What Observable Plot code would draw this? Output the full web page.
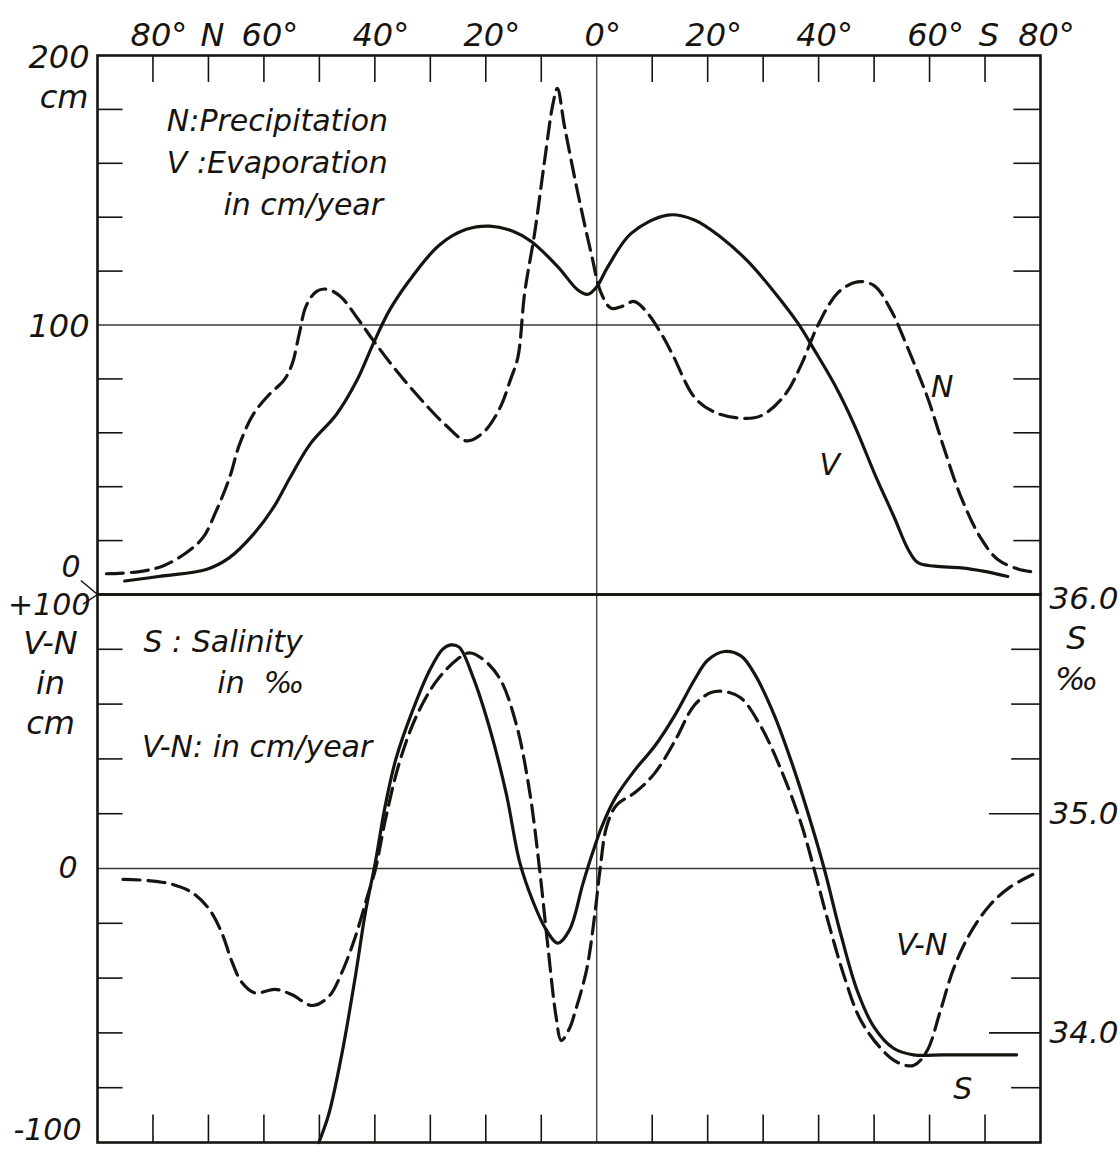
<!DOCTYPE html>
<html><head><meta charset="utf-8">
<script src="https://cdn.jsdelivr.net/npm/d3@7"></script>
<script src="https://cdn.jsdelivr.net/npm/@observablehq/plot@0.6"></script>
<style>
html,body{margin:0;padding:0;background:#fff;}
#wrap{position:relative;width:1120px;height:1156px;overflow:hidden;}
#top,#bot{position:absolute;left:0;}
#top{top:0;}
#bot{top:568px;}
</style></head>
<body><div id="wrap"><div id="top"></div><div id="bot"></div></div>
<script>
const INK = "#17130f";
// latitude in degrees: positive = North, negative = South
// N: precipitation, cm/year  [lat, cm]
const precipitation = [[88.4,7.7],[82.4,8.5],[78.2,10.6],[74,15.5],[71,21.1],[68.6,31],[66.2,43.3],[64.4,55.7],[61.9,66.9],[59,74.3],[56.5,79.2],[55,85],[53.6,97],[52.4,107],[50.5,112.5],[48.7,113.3],[46.3,110.8],[43.3,103],[40.3,94.3],[36.1,83],[31.3,71.5],[27.1,62.6],[23.5,57],[20.5,60],[17.5,69],[15.5,80],[14.2,88.2],[13,111.8],[11.2,134],[9.4,161],[7.9,182],[7.1,187.8],[5.8,173.6],[3.4,148.9],[1,126.6],[-0.8,111.8],[-2.6,106.2],[-4.4,106.8],[-6.8,108.7],[-9.2,104.3],[-11.6,96.9],[-13.7,88.9],[-17.7,73],[-21.3,67.6],[-26,65.4],[-29.7,66.4],[-33.9,74],[-36.9,85.4],[-39.9,100],[-43.5,112],[-47,116],[-50,114.6],[-53,105.7],[-56,91.8],[-59.7,72.7],[-62.7,53.7],[-65.7,36],[-69.3,20.7],[-72.3,13],[-75.9,9.5],[-78.3,8.5]];
// V: evaporation, cm/year  [lat, cm]
const evaporation = [[85.1,5],[78.2,6.9],[70.4,9.3],[66.2,13.7],[61.9,22.3],[58.3,32.2],[55.3,43.3],[51.7,55.7],[46.9,66.9],[43.3,79.2],[40.3,93],[37.3,105.7],[33.1,118.4],[28.3,129.8],[23.5,135.5],[19.3,136.7],[15.1,134.8],[11.8,131],[7,121.6],[3.4,113],[1.6,111.4],[0,114.2],[-2,121.6],[-6.2,134],[-12.8,140.8],[-17.6,139],[-22.5,132.4],[-27.3,123.5],[-32.1,112],[-36.3,100.6],[-39.3,90.5],[-42.9,77.8],[-46.5,62.6],[-50.1,44.8],[-53.7,28.3],[-56.1,16.9],[-57.9,11.8],[-60.9,10.5],[-65.7,9.9],[-69.9,8.6],[-74.1,6.7]];
// V-N: evaporation minus precipitation, cm/year  [lat, cm]
const evapMinusPrecip = [[85.4,-4],[80.9,-4.4],[76.7,-5.7],[73.1,-8.6],[70,-14.5],[67.6,-23.5],[65.8,-33.8],[64,-41.5],[61.6,-45.4],[58,-44.1],[55,-46],[51.3,-50],[48.3,-46.7],[45.9,-37.7],[43.5,-24.8],[41.4,-10.6],[39.9,-0.3],[38.1,17.8],[35.6,38.5],[32.6,55.2],[29,68.1],[25.4,75.9],[23,78.7],[20.6,76.5],[17.5,69.4],[14.5,52.6],[12.1,28.1],[10.3,-0.3],[8.8,-28.6],[7.3,-54.5],[6.4,-62.8],[4.9,-58.3],[3.9,-52.3],[1.8,-36.7],[0.3,-15.9],[-0.6,-0.3],[-1.8,15.4],[-3.6,23.2],[-6.9,27.7],[-10.5,34.9],[-14.1,46.6],[-17.6,59.6],[-20.6,64.2],[-23,64.6],[-26,62.2],[-29.6,51.8],[-33.2,36.2],[-36.8,16.7],[-39.2,-0.3],[-41.6,-18.5],[-44.6,-39.3],[-47.5,-55],[-51.1,-65.4],[-54.1,-70.6],[-57.1,-71.9],[-59.5,-66.7],[-61.9,-52.3],[-64.3,-36.7],[-67.3,-23.7],[-70.9,-13.3],[-74.5,-6.8],[-78.6,-2.2]];
// S: surface salinity, per mille  [lat, S]
const salinity = [[50.1,33.5],[48.3,33.63],[45.9,33.91],[43.5,34.26],[41.7,34.55],[39.9,34.78],[38.1,35.04],[36.2,35.25],[33.2,35.47],[30.2,35.65],[27.8,35.75],[26.3,35.77],[24.8,35.76],[22.4,35.63],[19.3,35.39],[16.3,35.09],[13.9,34.78],[11.5,34.6],[9.1,34.47],[7,34.41],[4.9,34.47],[2.5,34.68],[0.9,34.81],[-0.9,34.94],[-3.3,35.07],[-6.9,35.2],[-10.5,35.31],[-14.1,35.45],[-17.6,35.61],[-20,35.7],[-23,35.74],[-26,35.72],[-28.4,35.64],[-32,35.45],[-35.6,35.2],[-38.6,34.96],[-41,34.75],[-44,34.45],[-47,34.19],[-49.9,34.03],[-53.5,33.93],[-57.1,33.9],[-62.5,33.9],[-68.5,33.9],[-75.7,33.9]];

// axes
const latDomain = [90, -80];
const latTickMarks = [80,70,60,50,40,30,20,10,-10,-20,-30,-40,-50,-60,-70];
const latLabels = [80,60,40,20,0,-20,-40,-60,-80];
const hemisphereLabels = [{lat:70, t:"N"}, {lat:-70, t:"S"}];
const cmTickMarks = [20,40,60,80,120,140,160,180];
const cmLabels = [{v:200, t:"200"}, {v:100, t:"100"}];
const vnTickMarks = [80,60,40,-20,-40,-80];
const vnLongRight = [20,-60];
const salinityLabels = [35.0, 34.0];
// salinity drawn on the V-N scale: 36.0‰ ↔ +100, 35.0‰ ↔ +20, 34.0‰ ↔ -60
const salToVN = s => (s - 35) * 80 + 20;

const FONT = {fontFamily: "DejaVu Sans", fontStyle: "italic", fontSize: "32px", background: "transparent", color: INK, overflow: "visible"};
const lineStyle = {stroke: INK, strokeWidth: 3.2, curve: "catmull-rom", strokeLinecap: "round", strokeLinejoin: "round"};
const dash = "17,8";
const leftLabel = (v, t, dx, dy, size = 30) =>
  Plot.text([{v, t}], {y: "v", text: "t", frameAnchor: "left", textAnchor: "end", dx, dy, fontSize: size, fill: INK});

const topChart = Plot.plot({
  width: 1120, height: 620,
  marginLeft: 97, marginRight: 80, marginTop: 55, marginBottom: 26,
  x: {domain: latDomain, axis: null},
  y: {domain: [0, 200], axis: null},
  style: FONT,
  marks: [
    Plot.ruleY([100], {stroke: INK, strokeWidth: 1.3, strokeOpacity: 0.85}),
    Plot.ruleX([0], {stroke: INK, strokeWidth: 1.3, strokeOpacity: 0.85}),
    Plot.ruleX(latTickMarks, {x: d => d, y1: 200, y2: 190, stroke: INK, strokeWidth: 1.6}),
    Plot.ruleY(cmTickMarks, {y: d => d, x1: 90, x2: 85.4, stroke: INK, strokeWidth: 1.6}),
    Plot.ruleY(cmTickMarks, {y: d => d, x1: -80, x2: -75.2, stroke: INK, strokeWidth: 1.6}),
    Plot.line(precipitation, {x: d => d[0], y: d => d[1], ...lineStyle, strokeDasharray: dash}),
    Plot.line(evaporation, {x: d => d[0], y: d => d[1], ...lineStyle}),
    Plot.frame({stroke: INK, strokeWidth: 2.6}),
    Plot.axisX(latLabels, {anchor: "top", tickSize: 0, tickPadding: 10, dx: 6, tickFormat: d => `${Math.abs(d)}°`, fontSize: 32, label: null, fill: INK}),
    Plot.text(hemisphereLabels, {x: "lat", text: "t", frameAnchor: "top", lineAnchor: "bottom", dy: -10, dx: 4, fontSize: 32, fill: INK}),
    Plot.text(cmLabels, {y: "v", text: "t", frameAnchor: "left", textAnchor: "end", dx: -8, dy: 2, fontSize: 32, fill: INK}),
    leftLabel(184.5, "cm", -9, 0, 32),
    leftLabel(0, "0", -17, -27, 30),
    Plot.link([{a: 93, b: 5.2}], {x1: "a", y1: "b", x2: () => 90, y2: () => 0, stroke: INK, strokeWidth: 1.5}),
    Plot.text([{lat: 77.5, v: 175.5, t: "N:Precipitation"}, {lat: 77.5, v: 160, t: "V :Evaporation"}, {lat: 67.3, v: 144.5, t: "in cm/year"}],
      {x: "lat", y: "v", text: "t", textAnchor: "start", fontSize: 30, fill: INK}),
    Plot.text([{lat: -62.3, v: 77, t: "N"}, {lat: -42, v: 48, t: "V"}], {x: "lat", y: "v", text: "t", fontSize: 30, fill: INK})
  ]
});
document.getElementById("top").append(topChart);

const botChart = Plot.plot({
  width: 1120, height: 588,
  marginLeft: 97, marginRight: 80, marginTop: 26, marginBottom: 14,
  x: {domain: latDomain, axis: null},
  y: {domain: [-100, 100], axis: null},
  style: FONT,
  marks: [
    Plot.ruleY([0], {stroke: INK, strokeWidth: 1.3, strokeOpacity: 0.85}),
    Plot.ruleX([0], {stroke: INK, strokeWidth: 1.3, strokeOpacity: 0.85}),
    Plot.ruleX(latTickMarks, {x: d => d, y1: -100, y2: -90, stroke: INK, strokeWidth: 1.6}),
    Plot.ruleY([80,60,40,20,-20,-40,-60,-80], {y: d => d, x1: 90, x2: 85.4, stroke: INK, strokeWidth: 1.6}),
    Plot.ruleY(vnTickMarks, {y: d => d, x1: -80, x2: -74.8, stroke: INK, strokeWidth: 1.6}),
    Plot.ruleY(vnLongRight, {y: d => d, x1: -80, x2: -70.8, stroke: INK, strokeWidth: 1.6}),
    Plot.line(evapMinusPrecip, {x: d => d[0], y: d => d[1], ...lineStyle, strokeDasharray: dash}),
    Plot.line(salinity, {x: d => d[0], y: d => salToVN(d[1]), ...lineStyle}),
    Plot.frame({stroke: INK, strokeWidth: 2.6}),
    leftLabel(100, "+100", -7, 11, 30),
    leftLabel(0, "0", -20, 0, 30),
    leftLabel(-100, "-100", -16, -12, 30),
    Plot.link([{a: 92.6, b: 96.5}], {x1: "a", y1: "b", x2: () => 90, y2: () => 100, stroke: INK, strokeWidth: 1.5}),
    Plot.text([{v: 82, t: "V-N"}, {v: 67.5, t: "in"}, {v: 53, t: "cm"}], {y: "v", text: "t", frameAnchor: "left", textAnchor: "middle", dx: -47, fontSize: 32, fill: INK}),
    Plot.text([36.0], {y: d => salToVN(d), text: d => d.toFixed(1), frameAnchor: "right", textAnchor: "start", dx: 9, dy: 5, fontSize: 31, fill: INK}),
    Plot.text(salinityLabels, {y: d => salToVN(d), text: d => d.toFixed(1), frameAnchor: "right", textAnchor: "start", dx: 9, fontSize: 31, fill: INK}),
    Plot.text([{v: 84, t: "S"}, {v: 69, t: "‰"}], {y: "v", text: "t", frameAnchor: "right", textAnchor: "middle", dx: 36, fontSize: 32, fill: INK}),
    Plot.text([{lat: 81.7, v: 82.5, t: "S : Salinity"}, {lat: 68.4, v: 67.5, t: "in  ‰"}, {lat: 82, v: 44.3, t: "V-N: in cm/year"}],
      {x: "lat", y: "v", text: "t", textAnchor: "start", fontSize: 30, fill: INK}),
    Plot.text([{lat: -58.6, v: -28, t: "V-N"}, {lat: -66, v: -80.5, t: "S"}], {x: "lat", y: "v", text: "t", fontSize: 30, fill: INK})
  ]
});
document.getElementById("bot").append(botChart);
</script>
</body></html>
